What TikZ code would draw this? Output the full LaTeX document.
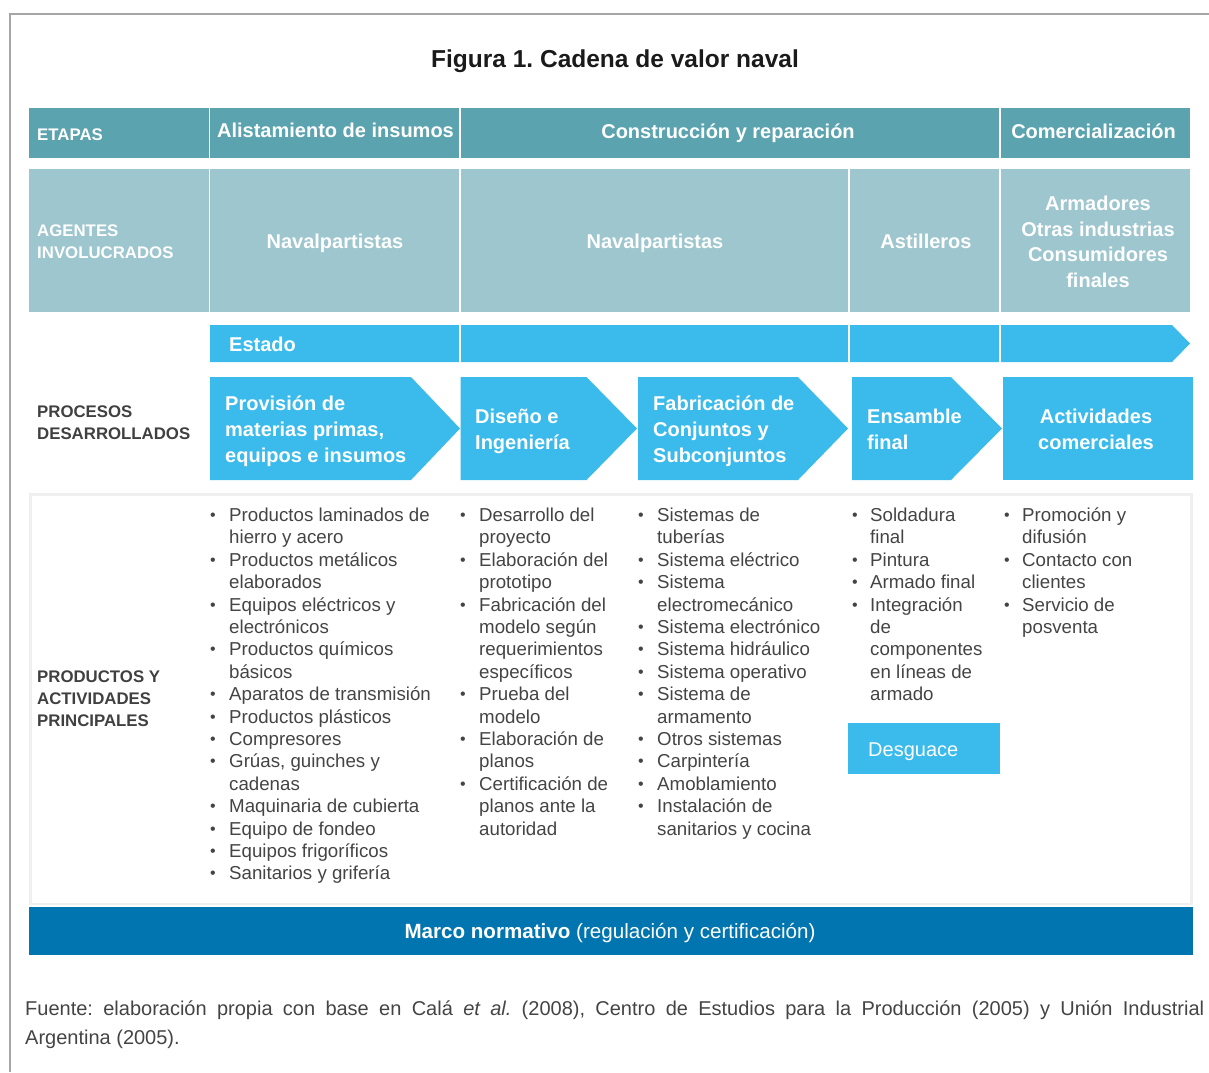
\documentclass[tikz,border=0pt]{standalone}
\usepackage{fontspec}
\setmainfont{Liberation Sans}
\frenchspacing
\definecolor{frame}{HTML}{A6A6A6}
\definecolor{etapa}{HTML}{5BA3AE}
\definecolor{agente}{HTML}{9DC6CE}
\definecolor{proceso}{HTML}{3BBBEB}
\definecolor{marco}{HTML}{0075AF}
\definecolor{panel}{HTML}{EFEFEF}
\definecolor{labelgray}{HTML}{404040}
\definecolor{itemgray}{HTML}{444444}
\definecolor{titlegray}{HTML}{1A1A1A}

% one column of bulleted lines: name, text x, bullet x, list of flag/text
\newcommand\prodcol[4]{%
  \foreach \b/\t [count=\i] in {#4}{%
    \node[itm] (#1-\i) at (#2,{521.5+22.4*(\i-1)}) {\t};
    \ifnum\b=1
      \node[bul] (#1b-\i) at (#3,{521.5+22.4*(\i-1)-1}) {•};
    \fi
  }%
}

\begin{document}
\frenchspacing
\begin{tikzpicture}[x=1pt,y=-1pt,
  hdr/.style={text=white,font=\fontsize{20}{24}\selectfont\bfseries,inner sep=0pt,anchor=base},
  hdrw/.style={hdr,anchor=base west},
  lbl/.style={text=labelgray,font=\fontsize{16.8}{20}\selectfont\bfseries,inner sep=0pt,anchor=base west},
  lblw/.style={lbl,text=white},
  itm/.style={text=itemgray,font=\fontsize{18.7}{22}\selectfont,inner sep=0pt,anchor=base west},
  bul/.style={text=itemgray,font=\fontsize{16}{16}\selectfont,inner sep=0pt,anchor=base},
  sep/.style={white,line width=1.8pt},
  foot/.style={text=itemgray,font=\fontsize{20}{29}\selectfont,inner sep=0pt,anchor=base west}]

\useasboundingbox (0,0) rectangle (1209,1072);

% outer frame (top and left edges)
\draw[frame,line width=2pt] (10,1072) -- (10,14) -- (1209,14);

% title
\node[text=titlegray,font=\fontsize{24.5}{28}\selectfont\bfseries,inner sep=0pt,anchor=base]
  (title) at (615,67) {Figura 1. Cadena de valor naval};

% row: etapas
\fill[etapa] (29,108) rectangle (1190,158);
\foreach \x in {209.5,460,1000} \draw[sep] (\x,108) -- (\x,158);
\node[lblw] (etapas) at (37,140) {ETAPAS};
\node[hdr] (alist) at (335.5,137) {Alistamiento de insumos};
\node[hdr] (constr) at (728,138) {Construcción y reparación};
\node[hdr] (comerc) at (1093.5,138) {Comercialización};

% row: agentes
\fill[agente] (29,169) rectangle (1190,312);
\foreach \x in {209.5,460,849,1000} \draw[sep] (\x,169) -- (\x,312);
\node[lblw] (ag1) at (37,236) {AGENTES};
\node[lblw] (ag2) at (37,258) {INVOLUCRADOS};
\node[hdr] (nav1) at (335,248) {Navalpartistas};
\node[hdr] (nav2) at (655,248) {Navalpartistas};
\node[hdr] (astil) at (926,248) {Astilleros};
\node[hdr] (arm1) at (1098,210) {Armadores};
\node[hdr] (arm2) at (1098,236) {Otras industrias};
\node[hdr] (arm3) at (1098,261) {Consumidores};
\node[hdr] (arm4) at (1098,287) {finales};

% estado bar
\fill[proceso] (210,325) -- (1172,325) -- (1190,343.5) -- (1172,362) -- (210,362) -- cycle;
\foreach \x in {460,849,1000} \draw[sep] (\x,325) -- (\x,362);
\node[hdrw] (estado) at (229,351) {Estado};

% procesos
\node[lbl] (pr1) at (37,417) {PROCESOS};
\node[lbl] (pr2) at (37,439) {DESARROLLADOS};
\fill[proceso] (210,377) -- (411,377) -- (460,428.5) -- (411,480) -- (210,480) -- cycle;
\fill[proceso] (460.5,377) -- (586.5,377) -- (637,428.5) -- (586.5,480) -- (460.5,480) -- cycle;
\fill[proceso] (638,377) -- (798,377) -- (848,428.5) -- (798,480) -- (638,480) -- cycle;
\fill[proceso] (852,377) -- (951,377) -- (1002,428.5) -- (951,480) -- (852,480) -- cycle;
\fill[proceso] (1003,377) rectangle (1193,480);
\node[hdrw] (p1a) at (225,410) {Provisión de};
\node[hdrw] (p1b) at (225,436) {materias primas,};
\node[hdrw] (p1c) at (225,462) {equipos e insumos};
\node[hdrw] (p2a) at (475,423) {Diseño e};
\node[hdrw] (p2b) at (475,449) {Ingeniería};
\node[hdrw] (p3a) at (653,410) {Fabricación de};
\node[hdrw] (p3b) at (653,436) {Conjuntos y};
\node[hdrw] (p3c) at (653,462) {Subconjuntos};
\node[hdrw] (p4a) at (867,423) {Ensamble};
\node[hdrw] (p4b) at (867,449) {final};
\node[hdr] (p5a) at (1096,423) {Actividades};
\node[hdr] (p5b) at (1096,449) {comerciales};

% productos y actividades
\draw[panel,line width=2.5pt] (30.5,494.5) rectangle (1191.5,904);
\node[lbl] (pa1) at (37,682) {PRODUCTOS Y};
\node[lbl] (pa2) at (37,704) {ACTIVIDADES};
\node[lbl] (pa3) at (37,726) {PRINCIPALES};

\prodcol{ca}{229}{213}{1/Productos laminados de, 0/hierro y acero, 1/Productos metálicos,
  0/elaborados, 1/Equipos eléctricos y, 0/electrónicos, 1/Productos químicos, 0/básicos,
  1/Aparatos de transmisión, 1/Productos plásticos, 1/Compresores, 1/{Grúas, guinches y},
  0/cadenas, 1/Maquinaria de cubierta, 1/Equipo de fondeo, 1/Equipos frigoríficos,
  1/Sanitarios y grifería}
\prodcol{cb}{479}{463}{1/Desarrollo del, 0/proyecto, 1/Elaboración del, 0/prototipo,
  1/Fabricación del, 0/modelo según, 0/requerimientos, 0/específicos, 1/Prueba del,
  0/modelo, 1/Elaboración de, 0/planos, 1/Certificación de, 0/planos ante la, 0/autoridad}
\prodcol{cc}{657}{641}{1/Sistemas de, 0/tuberías, 1/Sistema eléctrico, 1/Sistema,
  0/electromecánico, 1/Sistema electrónico, 1/Sistema hidráulico, 1/Sistema operativo,
  1/Sistema de, 0/armamento, 1/Otros sistemas, 1/Carpintería, 1/Amoblamiento,
  1/Instalación de, 0/sanitarios y cocina}
\prodcol{cd}{870}{855}{1/Soldadura, 0/final, 1/Pintura, 1/Armado final, 1/Integración,
  0/de, 0/componentes, 0/en líneas de, 0/armado}
\prodcol{ce}{1022}{1007}{1/Promoción y, 0/difusión, 1/Contacto con, 0/clientes,
  1/Servicio de, 0/posventa}

% desguace
\fill[proceso] (848,723) rectangle (1000,773.5);
\node[text=white,font=\fontsize{20}{24}\selectfont,inner sep=0pt,anchor=base west]
  (desg) at (868,756) {Desguace};

% marco normativo
\fill[marco] (29,907) rectangle (1193,955);
\node[text=white,font=\fontsize{20.6}{24}\selectfont,inner sep=0pt,anchor=base]
  (marco) at (610,938) {\textbf{Marco normativo} (regulación y certificación)};

% source note
\node[foot] (f1) at (25,1015) {\makebox[1179pt][s]{Fuente: elaboración propia con base en Calá \textit{et al.} (2008), Centro de Estudios para la Producción (2005) y Unión Industrial}};
\node[foot] (f2) at (25,1044) {Argentina (2005).};

\end{tikzpicture}
\end{document}
